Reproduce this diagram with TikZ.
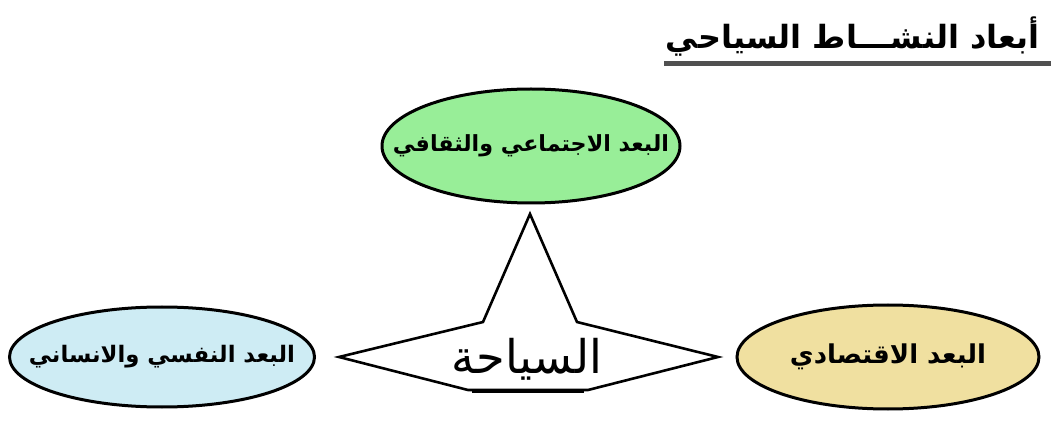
\documentclass[tikz,border=0pt]{standalone}
\usepackage{fontspec}
\usepackage{graphicx}
\TeXXeTstate=1
\newfontfamily\arabicfont[Script=Arabic]{DejaVu Sans}
\usetikzlibrary{shapes.geometric}
\definecolor{greenfill}{RGB}{152,238,152}
\definecolor{bluefill}{RGB}{206,236,244}
\definecolor{yellowfill}{RGB}{240,224,160}
\definecolor{rulegray}{RGB}{80,80,80}
\tikzset{
  dimension/.style={ellipse,draw=black,line width=3pt,inner sep=0pt},
  lbl/.style={font=\arabicfont\bfseries,inner sep=0pt},
}
\begin{document}
\begin{tikzpicture}[x=1pt,y=-1pt]
\useasboundingbox (0,0) rectangle (1053,422);
% title
\node[lbl,anchor=south east] (title) at (1040,57) {\resizebox{374pt}{!}{\beginR أبعاد النشـــاط السياحي\endR}};
\draw[rulegray,line width=5pt] (664,64) -- (1051,64);
% ellipses
\node[dimension,fill=greenfill,minimum width=298pt,minimum height=114pt] (social) at (531,146) {};
\node[lbl] at (social) {\resizebox{276pt}{!}{\beginR البعد الاجتماعي والثقافي\endR}};
\node[dimension,fill=bluefill,minimum width=305pt,minimum height=100pt] (psych) at (162,357) {};
\node[lbl] at (psych) {\resizebox{266pt}{!}{\beginR البعد النفسي والانساني\endR}};
\node[dimension,fill=yellowfill,minimum width=302pt,minimum height=104pt] (econ) at (888,357) {};
\node[lbl] at (econ) {\resizebox{196pt}{!}{\beginR البعد الاقتصادي\endR}};
% star
\coordinate (top) at (530,214);
\coordinate (ur) at (577,322);
\coordinate (right) at (718,357);
\coordinate (br) at (588,390);
\coordinate (bl) at (468,390);
\coordinate (left) at (339,357);
\coordinate (ul) at (483,322);
\draw[line width=2.6pt,line join=miter] (top) -- (ur) -- (right) -- (br) -- (bl) -- (left) -- (ul) -- cycle;
\draw[line width=4.5pt] (472,391) -- (584,391);
\node[font=\arabicfont,inner sep=0pt] (tourism) at (527,359) {\resizebox{150pt}{!}{\beginR السياحة\endR}};
\end{tikzpicture}
\end{document}
